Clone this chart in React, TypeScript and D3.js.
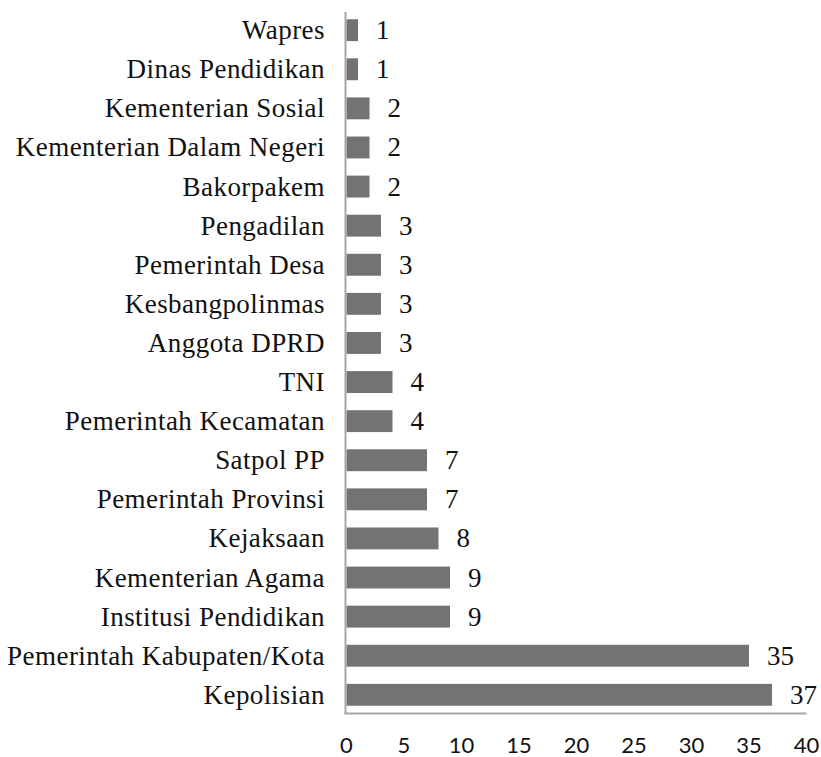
import React from "react";
import * as d3 from "d3";

const categories = [
  "Wapres",
  "Dinas Pendidikan",
  "Kementerian Sosial",
  "Kementerian Dalam Negeri",
  "Bakorpakem",
  "Pengadilan",
  "Pemerintah Desa",
  "Kesbangpolinmas",
  "Anggota DPRD",
  "TNI",
  "Pemerintah Kecamatan",
  "Satpol PP",
  "Pemerintah Provinsi",
  "Kejaksaan",
  "Kementerian Agama",
  "Institusi Pendidikan",
  "Pemerintah Kabupaten/Kota",
  "Kepolisian",
];
const values = [1, 1, 2, 2, 2, 3, 3, 3, 3, 4, 4, 7, 7, 8, 9, 9, 35, 37];
const ticks = [0, 5, 10, 15, 20, 25, 30, 35, 40];

const W = 821;
const H = 757;

export default function App() {
  const x = d3.scaleLinear().domain([0, 40]).range([346.5, 806.5]);
  const y = d3
    .scaleBand<string>()
    .domain(categories)
    .range([12, 713])
    .paddingInner(0.44)
    .paddingOuter(0.185);
  const bw = y.bandwidth();
  const serif = "'Liberation Serif', 'Times New Roman', serif";
  return (
    <svg
      width={W}
      height={H}
      style={{ position: "absolute", left: 0, top: 0, background: "#fff" }}
    >
      {categories.map((c, i) => {
        const yy = y(c)!;
        const cy = yy + bw / 2;
        return (
          <g key={c}>
            <rect
              x={x(0)}
              y={yy}
              width={x(values[i]) - x(0)}
              height={bw}
              fill="#737373"
            />
            <text
              x={325}
              y={cy + 9}
              textAnchor="end"
              fontFamily={serif}
              fontSize={27}
              letterSpacing={0.45}
              fill="#111"
            >
              {c}
            </text>
            <text
              x={x(values[i]) + 18}
              y={cy + 9}
              fontFamily={serif}
              fontSize={27}
              fill="#111"
            >
              {values[i]}
            </text>
          </g>
        );
      })}
      <line x1={x(0) - 1} x2={x(0) - 1} y1={12} y2={714} stroke="#a6a6a6" strokeWidth={2} />
      <line x1={x(0) - 2} x2={x(40)} y1={713.5} y2={713.5} stroke="#a6a6a6" strokeWidth={2} />
      {ticks.map((t) => (
        <text
          key={t}
          x={x(t)}
          y={753}
          textAnchor="middle"
          fontFamily="Lato, 'Open Sans', sans-serif"
          fontSize={22}
          fill="#111"
        >
          {t}
        </text>
      ))}
    </svg>
  );
}
